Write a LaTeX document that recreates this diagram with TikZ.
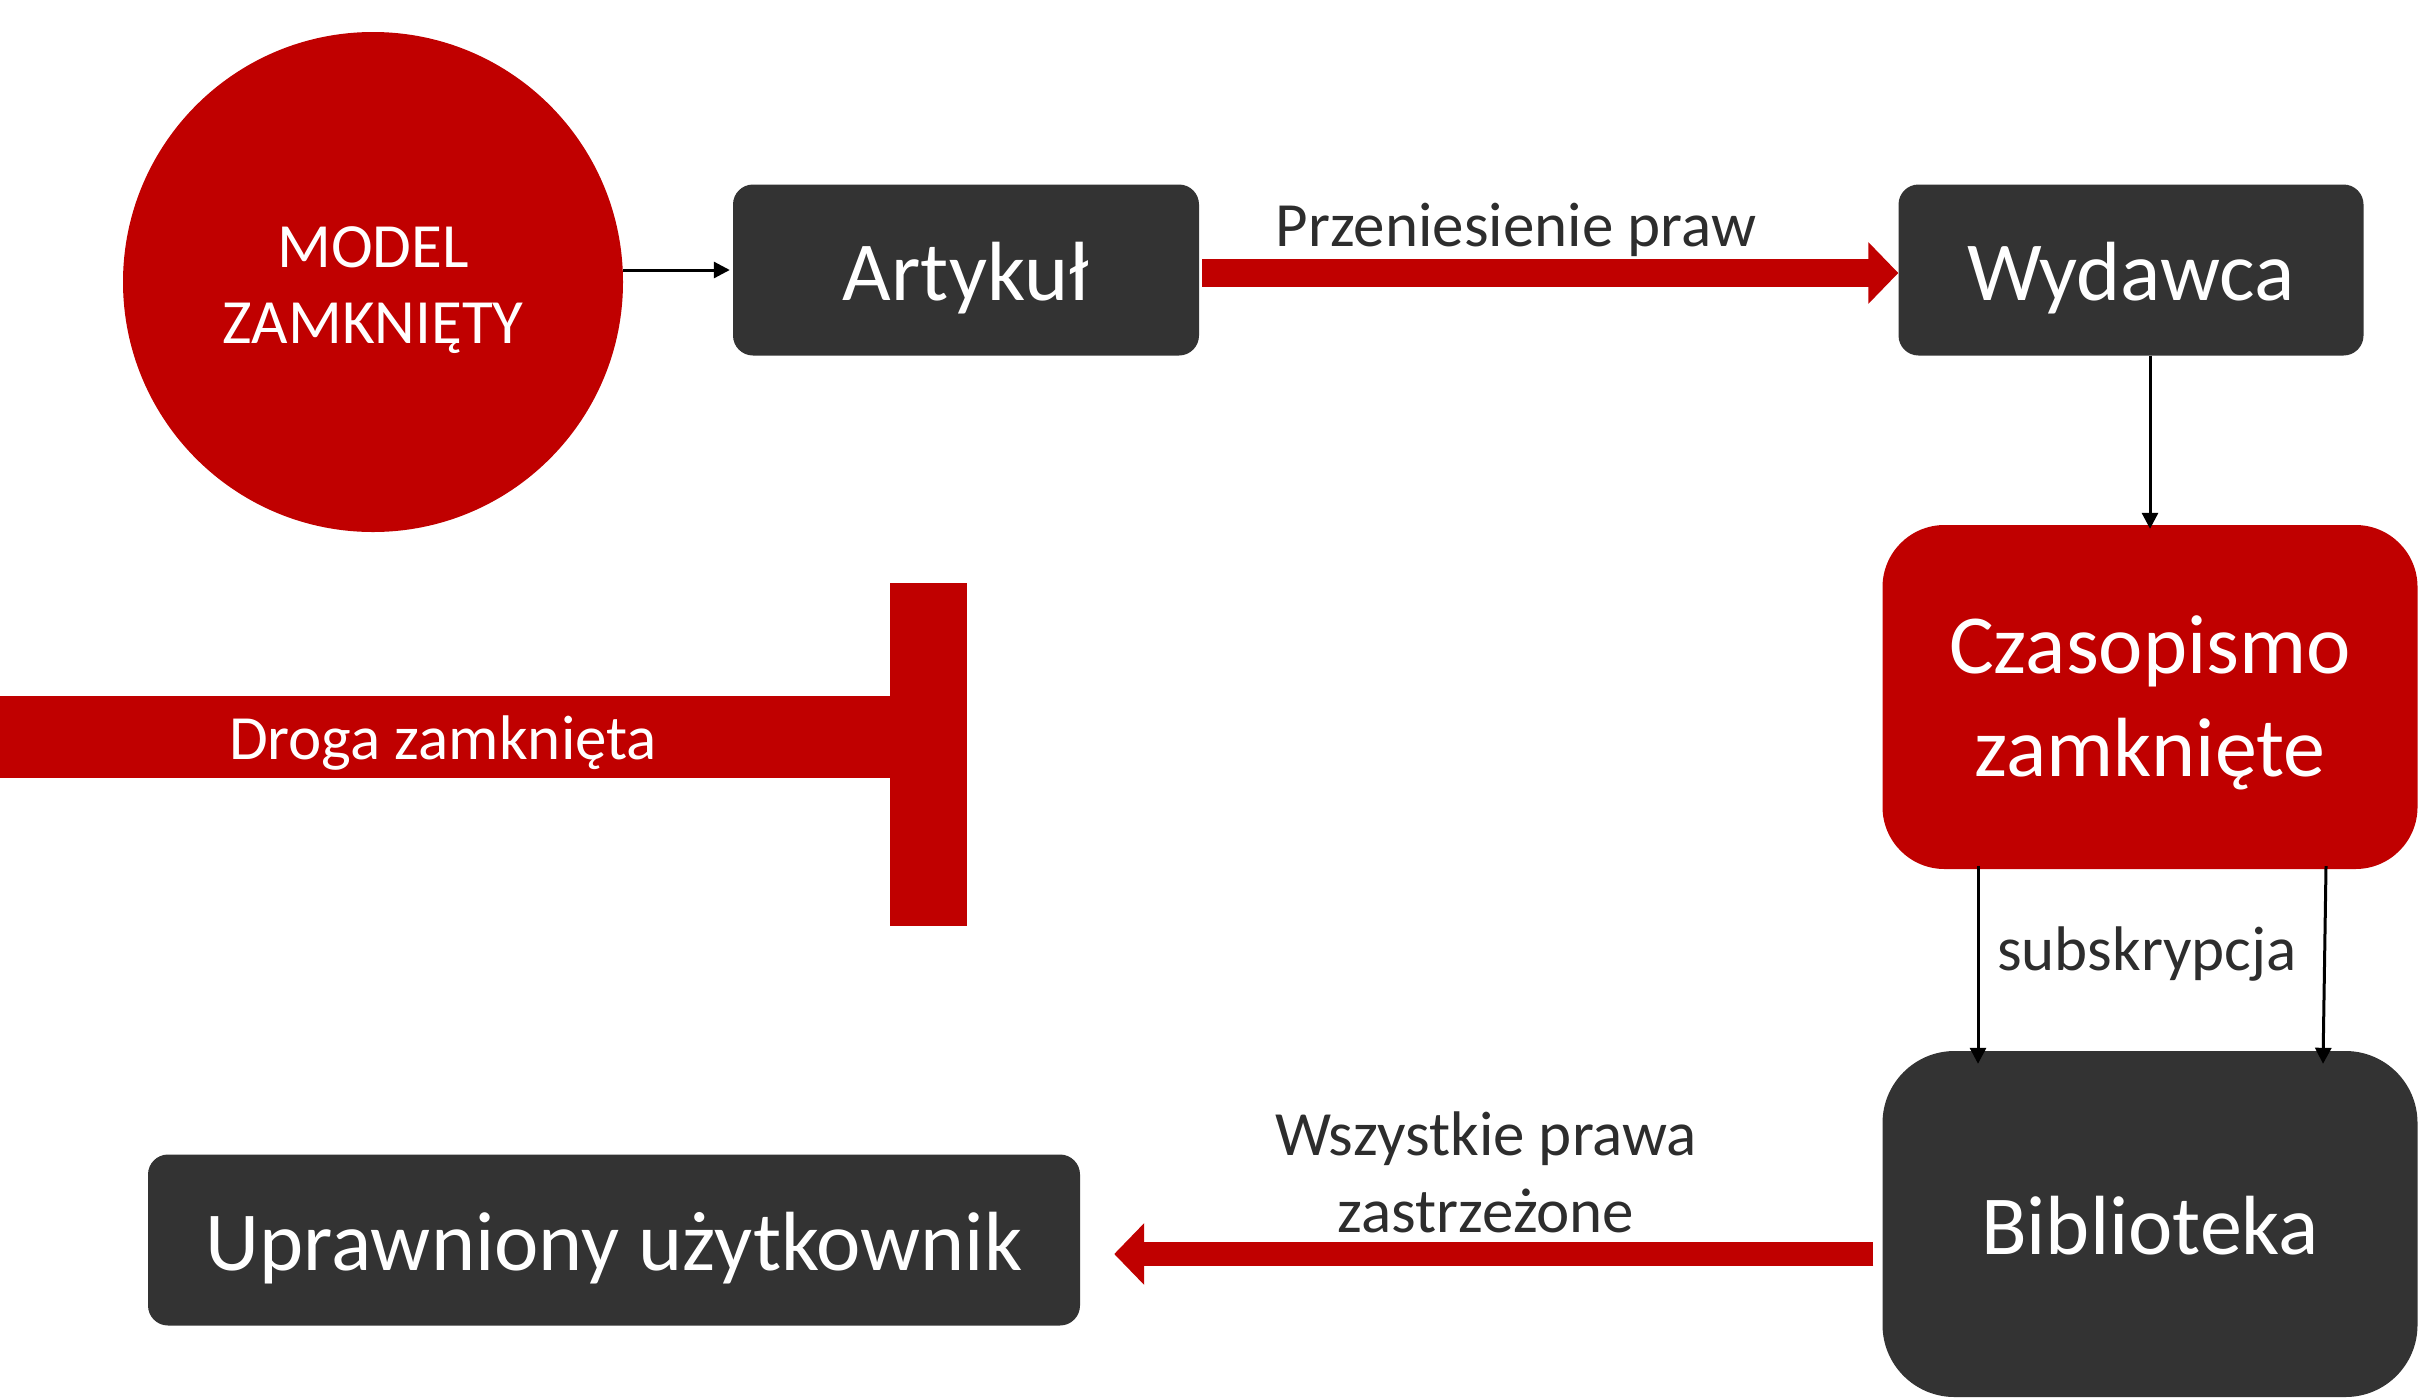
\documentclass[tikz,border=0pt]{standalone}
\usepackage{fontspec}
\setmainfont{Carlito}
\usetikzlibrary{arrows.meta}
\definecolor{cred}{RGB}{192,0,0}
\definecolor{cdark}{RGB}{51,51,51}
\definecolor{ctext}{RGB}{45,45,45}
\tikzset{
  darkbox/.style={fill=cdark, inner sep=0pt},
  redbox/.style={fill=cred, inner sep=0pt},
  boxtext/.style={text=white, inner sep=0pt, font=\fontsize{84}{103}\selectfont, align=center},
  lbl/.style={text=ctext, inner sep=0pt, font=\fontsize{63}{77}\selectfont, align=center},
  thinarrow/.style={draw=black, line width=3pt, -{Triangle[length=16pt,width=16pt]}},
  bigarrow/.style={draw=cred, line width=#1, -{Triangle[length=30pt,width=60pt]}},
}
\begin{document}
\begin{tikzpicture}[x=1pt,y=-1pt]
\useasboundingbox (0,0) rectangle (2419,1398);
% circle
\node[circle, fill=cred, minimum size=500pt, inner sep=0pt] (circ) at (373,282) {};
\node[boxtext, font=\fontsize{63}{76}\selectfont] (circT) at (373,290) {MODEL\\ZAMKNIĘTY};
% boxes
\node[darkbox, rounded corners=20pt, minimum width=466pt, minimum height=171pt] (art) at (966,270) {};
\node[boxtext] (artT) at (966,278) {Artykuł};
\node[darkbox, rounded corners=20pt, minimum width=465pt, minimum height=171pt] (wyd) at (2131,270) {};
\node[boxtext] (wydT) at (2131,278) {Wydawca};
\node[redbox, rounded corners=62pt, minimum width=535pt, minimum height=344pt] (cz) at (2150,697) {};
\node[boxtext] (czT) at (2150,703) {Czasopismo\\zamknięte};
\node[darkbox, rounded corners=72pt, minimum width=535pt, minimum height=346pt] (bib) at (2150,1224) {};
\node[boxtext] (bibT) at (2150,1226) {Biblioteka};
\node[darkbox, rounded corners=20pt, minimum width=932pt, minimum height=171pt] (upr) at (614,1240) {};
\node[boxtext] (uprT) at (614,1248) {Uprawniony użytkownik};
% T bar
\fill[cred] (0,696) rectangle (891,778);
\fill[cred] (890,583) rectangle (967,926);
\node[text=white, inner sep=0pt, font=\fontsize{63}{77}\selectfont] (droga) at (443,743) {Droga zamknięta};
% labels
\node[lbl] (lprz) at (1516,230) {Przeniesienie praw};
\node[lbl] (lsub) at (2147,954) {subskrypcja};
\node[lbl] (lwsz) at (1486,1172) {Wszystkie prawa\\zastrzeżone};
% connectors
\draw[thinarrow] (circ.east |- art.west) -- ([xshift=-3pt]art.west);
\draw[bigarrow=28pt] ([xshift=3pt,yshift=-3pt]art.east) -- ([yshift=-3pt]wyd.west);
\draw[thinarrow] (cz.north |- wyd.south) -- ([yshift=-4pt]cz.north);
\draw[thinarrow] ([xshift=-172pt,yshift=3pt]cz.south) -- ([xshift=-172pt,yshift=-13pt]bib.north);
\draw[thinarrow] ([xshift=176pt,yshift=3pt]cz.south) -- ([xshift=173pt,yshift=-13pt]bib.north);
\draw[bigarrow=24pt] ([shift={(-9,30)}]bib.west) -- ([shift={(34,14)}]upr.east);
\end{tikzpicture}
\end{document}
